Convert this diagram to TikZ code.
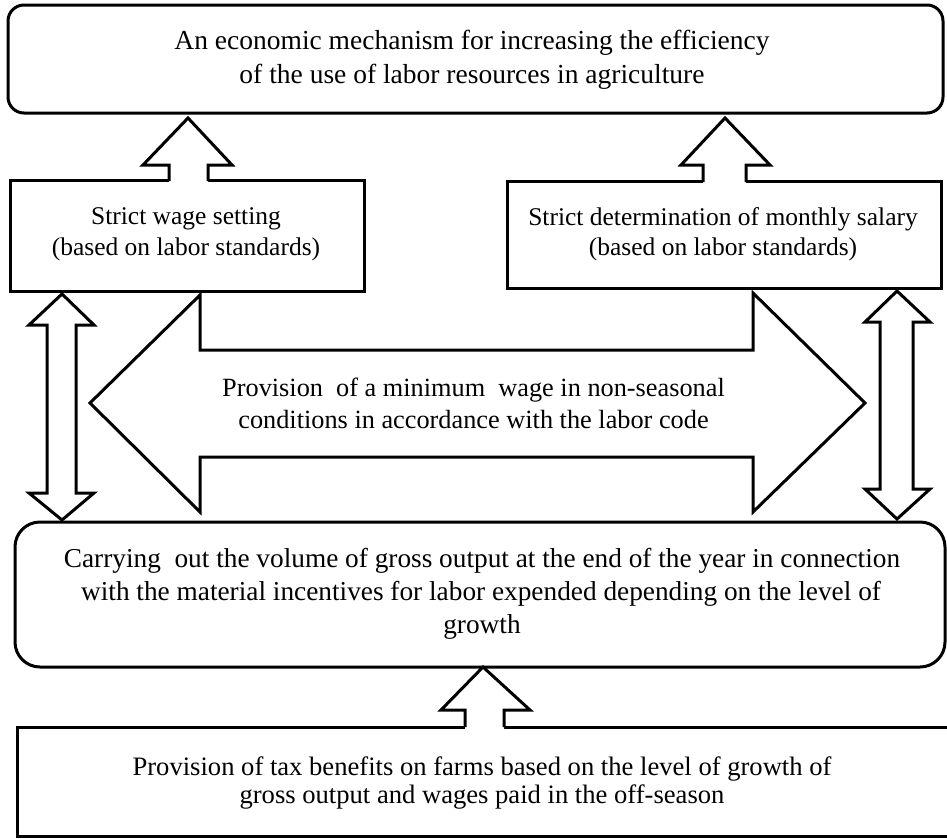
\documentclass[tikz,border=0pt]{standalone}
\usepackage{fontspec}
\setmainfont{Liberation Serif}
\begin{document}
\begin{tikzpicture}[x=1pt,y=-1pt,
  frame/.style={draw=black,line width=3pt,fill=white},
  blockarrow/.style={draw=black,line width=3pt,line join=miter,fill=white},
  line/.style={inner sep=0pt,anchor=base}]
\useasboundingbox (0,0) rectangle (947,838);

% boxes
\draw[frame,rounded corners=16pt] (8,5) rectangle (943,113);
\draw[frame] (10,180) rectangle (364,291);
\draw[frame] (507,181) rectangle (941,288);
\draw[frame,rounded corners=25pt] (15,522) rectangle (945,667);
\draw[frame] (17,727) rectangle (955,836);

% up arrows into the top box
\fill[white] (169,186) -- (169,165) -- (143,165) -- (188,118) -- (232,165) -- (208,165) -- (208,186) -- cycle;
\draw[blockarrow] (169,181) -- (169,165) -- (143,165) -- (188,118) -- (232,165) -- (208,165) -- (208,181);
\fill[white] (703,186) -- (703,165) -- (681,165) -- (725,118) -- (770,165) -- (746,165) -- (746,186) -- cycle;
\draw[blockarrow] (703,182) -- (703,165) -- (681,165) -- (725,118) -- (770,165) -- (746,165) -- (746,182);

% up arrow into the middle box
\fill[white] (465,732) -- (465,710) -- (441,710) -- (483,667) -- (530,710) -- (504,710) -- (504,732) -- cycle;
\draw[blockarrow] (465,727) -- (465,710) -- (441,710) -- (483,667) -- (530,710) -- (504,710) -- (504,727);

% vertical double arrows
\draw[blockarrow] (62,294) -- (94,325) -- (76,325) -- (76,493) -- (94,493) -- (62,520)
  -- (29,493) -- (47,493) -- (47,325) -- (29,325) -- cycle;
\draw[blockarrow] (897,291) -- (930,322) -- (913,322) -- (913,489) -- (930,489) -- (897,519)
  -- (865,489) -- (880,489) -- (880,322) -- (865,322) -- cycle;

% wide horizontal double arrow
\draw[blockarrow] (90,403) -- (200,295) -- (200,350) -- (753,350) -- (753,293) -- (865,403)
  -- (753,512) -- (753,457) -- (200,457) -- (200,512) -- cycle;

% texts, one node per line, placed on their baselines
\begin{scope}[every node/.append style={line,font=\fontsize{27.5}{32}\selectfont}]
  \node (top-1) at (472,49.5) {An economic mechanism for increasing the efficiency};
  \node (top-2) at (472,83.5) {of the use of labor resources in agriculture};
\end{scope}
\begin{scope}[every node/.append style={line,font=\fontsize{25.5}{30}\selectfont}]
  \node (wage-1) at (186,224.5) {Strict wage setting};
  \node (wage-2) at (186,255) {(based on labor standards)};
  \node (salary-1) at (723,225) {Strict determination of monthly salary};
  \node (salary-2) at (723,255) {(based on labor standards)};
\end{scope}
\begin{scope}[every node/.append style={line,font=\fontsize{26.3}{32}\selectfont}]
  \node (minwage-1) at (473.5,396) {Provision\ \ of a minimum\ \ wage in non-seasonal};
  \node (minwage-2) at (473.5,428) {conditions in accordance with the labor code};
\end{scope}
\begin{scope}[every node/.append style={line,font=\fontsize{27.3}{33}\selectfont}]
  \node (gross-1) at (482,567) {Carrying\ \ out the volume of gross output at the end of the year in connection};
  \node (gross-2) at (481,600) {with the material incentives for labor expended depending on the level of};
  \node (gross-3) at (482,633) {growth};
\end{scope}
\begin{scope}[every node/.append style={line,font=\fontsize{26.6}{28}\selectfont}]
  \node (tax-1) at (482,775) {Provision of tax benefits on farms based on the level of growth of};
  \node (tax-2) at (482,803) {gross output and wages paid in the off-season};
\end{scope}
\end{tikzpicture}
\end{document}
